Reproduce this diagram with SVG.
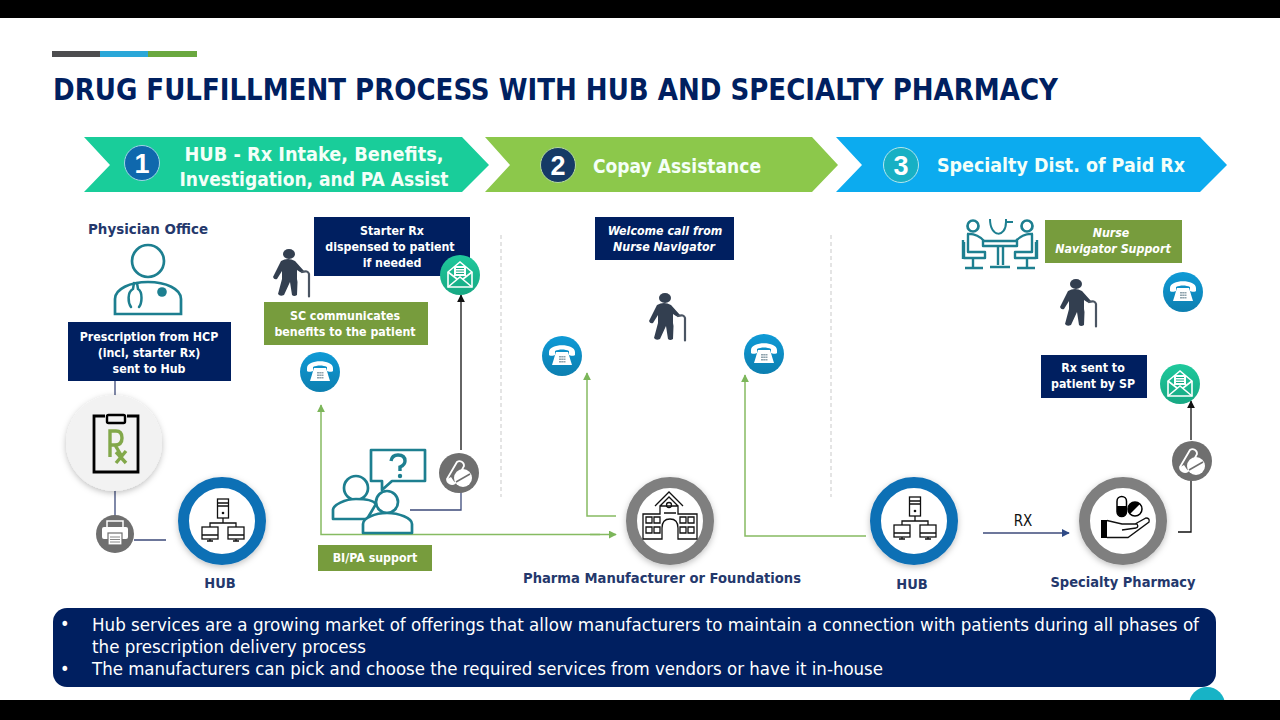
<svg xmlns="http://www.w3.org/2000/svg" xmlns:xlink="http://www.w3.org/1999/xlink" width="1280" height="720" viewBox="0 0 1280 720">
<style>
text{font-family:"DejaVu Sans Condensed","DejaVu Sans",sans-serif;font-stretch:condensed}
.t{text-anchor:middle;font-weight:700;font-size:12.3px;fill:#fff}
.i{font-style:italic}
.lab{text-anchor:middle;font-weight:700;font-size:14.5px;fill:#24386c}
.head{font-weight:700;font-size:20px;fill:#f4fff8;text-anchor:middle}
.num{font-family:"Liberation Sans",sans-serif;font-weight:700;font-size:27px;fill:#fff;text-anchor:middle}
.navy{fill:#001f60}
.grn{fill:#779c3d}
.gl{fill:none;stroke:#86bb62;stroke-width:1.5}
.bl{fill:none;stroke:#111;stroke-width:1.3}
.nl{fill:none;stroke:#3c4a7a;stroke-width:1.3}
.dash{stroke:#c9c9c9;stroke-width:1;stroke-dasharray:4 3}
.ic{fill:none;stroke:#111;stroke-width:1.3}
.tl{fill:none;stroke:#1d7f90;stroke-width:2.7}
.b{font-size:18px;font-weight:400;fill:#fff}
</style>
<defs>
<linearGradient id="gb" x1="0" y1="0" x2="0" y2="1"><stop offset="0" stop-color="#0f9ad6"/><stop offset="1" stop-color="#0d7fb0"/></linearGradient>
<linearGradient id="gm" x1="0" y1="0" x2="0" y2="1"><stop offset="0" stop-color="#1fc99c"/><stop offset="1" stop-color="#17a883"/></linearGradient>
<filter id="sh" x="-30%" y="-30%" width="160%" height="160%"><feDropShadow dx="0" dy="2" stdDeviation="3" flood-color="#000" flood-opacity=".25"/></filter>
<marker id="ag" viewBox="0 0 10 10" refX="9" refY="5" markerWidth="8" markerHeight="8" orient="auto" markerUnits="userSpaceOnUse"><path d="M0 0L10 5L0 10Z" fill="#7cb65a"/></marker>
<marker id="ak" viewBox="0 0 10 10" refX="9" refY="5" markerWidth="8" markerHeight="8" orient="auto" markerUnits="userSpaceOnUse"><path d="M0 0L10 5L0 10Z" fill="#111"/></marker>
<marker id="an" viewBox="0 0 10 10" refX="9" refY="5" markerWidth="8" markerHeight="8" orient="auto" markerUnits="userSpaceOnUse"><path d="M0 0L10 5L0 10Z" fill="#2f4a86"/></marker>
<symbol id="phone" overflow="visible" viewBox="-20 -20 40 40" width="40" height="40">
<circle r="20" fill="url(#gb)"/>
<path d="M-13-4C-13-13 13-13 13-4L13-1C13 0 8 0 7-1L7-5C3-7-3-7-7-5L-7-1C-8 0-13 0-13-1Z" fill="#fff"/>
<path d="M-6-4L6-4L10 9L-10 9Z" fill="#fff"/>
<path d="M-3 0h2v1.5h-2zM-.8 0h2v1.5h-2zM1.5 0h2v1.5h-2zM-3 2.500h2v1.500h-2zM-.8 2.500h2v1.500h-2zM1.5 2.500h2v1.500h-2zM-3 5h2v1.500h-2zM-.8 5h2v1.500h-2zM1.500 5h2v1.500h-2z" fill="#8fa3ad"/>
</symbol>
<symbol id="mail" overflow="visible" viewBox="-20 -20 40 40" width="40" height="40">
<circle r="20" fill="url(#gm)"/>
<path d="M-12-3L0-13L12-3L12 12L-12 12Z" fill="none" stroke="#fff" stroke-width="1.6"/>
<path d="M-12 12L0 2L12 12M-12-3L-3 4M12-3L3 4" fill="none" stroke="#fff" stroke-width="1.6"/>
<rect x="-6" y="-9" width="12" height="10" fill="#fff"/>
<path d="M-4-6.500h8M-4-4h8M-4-1.500h8" stroke="#17a883" stroke-width="1"/>
</symbol>
<symbol id="pill" overflow="visible" viewBox="-20 -20 40 40" width="40" height="40">
<circle r="20" fill="#6f6f6f"/>
<path d="M-2-11A4.500 4.500 0 0 1 5-7L-4 10A5 5 0 0 1-12 6Z" fill="none" stroke="#fff" stroke-width="1.8"/>
<path d="M-8 4L-4 10A5 5 0 0 1-12 6Z" fill="#fff"/>
<circle cx="4" cy="5" r="9" fill="#fff"/>
<path d="M-3 9L11 1" stroke="#6f6f6f" stroke-width="1.6"/>
</symbol>
<symbol id="walker" overflow="visible" viewBox="0 0 40 48" width="40" height="48">
<ellipse cx="19" cy="5" rx="6" ry="5" fill="#333f50"/>
<path d="M11 12Q18 8 25 12L34 22Q33 25 30 23L27 21L27 30L27.500 33L27 46Q24 48 22 46L20 33L14 46Q10 48 8 45L12 30L12 22L7 30Q4 31 3 28Z" fill="#333f50"/>
<path d="M32 23Q38 21 39 25L39 47.500" fill="none" stroke="#4b5563" stroke-width="2.200" stroke-linecap="round"/>
</symbol>
<symbol id="net" overflow="visible" viewBox="-25 -25 50 50" width="50" height="50">
<rect x="-5.500" y="-25" width="11" height="19" class="ic"/>
<path d="M-5.500-21h11M-5.500-18h11" class="ic"/>
<circle cx="0" cy="-11" r="1.300" fill="#111"/>
<path d="M0-6V-1M-13 3V-1H13V3" class="ic"/>
<rect x="-21" y="3" width="16" height="12" class="ic"/><path d="M-21 11h16M-16 17h6M-13 15v2" class="ic"/>
<rect x="5" y="3" width="16" height="12" class="ic"/><path d="M5 11h16M10 17h6M13 15v2" class="ic"/>
</symbol>
</defs>

<rect width="1280" height="720" fill="#fff"/>

<g id="title-bar"><rect x="52" y="51" width="48" height="6" fill="#4d4d4f"/><rect x="100" y="51" width="48" height="6" fill="#2aa7d8"/><rect x="148" y="51" width="49" height="6" fill="#6aa83f"/></g>
<text x="53" y="100" font-size="30" font-weight="700" fill="#002060" textLength="1005" lengthAdjust="spacingAndGlyphs">DRUG FULFILLMENT PROCESS WITH HUB AND SPECIALTY PHARMACY</text>

<g id="step1">
<path d="M84 137H462L489 165L462 192H84L110 165Z" fill="#19cd9a"/>
<circle cx="142" cy="163" r="17.500" fill="#0f68ad" stroke="#9fd6e6" stroke-width="1"/>
<text class="num" x="142" y="173">1</text>
<text class="head" x="314" y="161" textLength="259" lengthAdjust="spacingAndGlyphs">HUB - Rx Intake, Benefits,</text>
<text class="head" x="314" y="186" textLength="269" lengthAdjust="spacingAndGlyphs">Investigation, and PA Assist</text>
</g>
<g id="step2">
<path d="M485 137H812L838 165L812 192H485L510 165Z" fill="#8cc84b"/>
<circle cx="558" cy="165" r="17.500" fill="#153a66" stroke="#b6d9a0" stroke-width="1"/>
<text class="num" x="558" y="175">2</text>
<text class="head" x="677" y="173" textLength="168" lengthAdjust="spacingAndGlyphs">Copay Assistance</text>
</g>
<g id="step3">
<path d="M836 137H1200L1227 165L1200 192H836L862 165Z" fill="#0cabef"/>
<circle cx="901" cy="165" r="17.500" fill="#17b0c4" stroke="#b3e6ee" stroke-width="1"/>
<text class="num" x="901" y="175">3</text>
<text class="head" x="1061" y="172" textLength="248" lengthAdjust="spacingAndGlyphs">Specialty Dist. of Paid Rx</text>
</g>

<g id="connectors">
<line class="dash" x1="501" y1="235" x2="501" y2="497"/>
<line class="dash" x1="831" y1="235" x2="831" y2="497"/>
<path class="nl" d="M115 381V397M115 490V516M134 540H166"/>
<path class="gl" d="M600 534.500H321V405" marker-end="url(#ag)"/>
<path class="gl" d="M590 534.500H616" marker-end="url(#ag)"/>
<path class="bl" d="M461 450V295" marker-end="url(#ak)"/>
<path class="nl" d="M410 510H461V492"/>
<path class="gl" d="M616 516H587V373" marker-end="url(#ag)"/>
<path class="gl" d="M866 536H745V375" marker-end="url(#ag)"/>
<path class="nl" d="M983 533H1069" marker-end="url(#an)"/>
<path class="bl" d="M1178 532H1191V480"/>
<path class="bl" d="M1191 440V401" marker-end="url(#ak)"/>
</g>

<g id="physician-office">
<text class="lab" x="148" y="234" textLength="120" lengthAdjust="spacingAndGlyphs">Physician Office</text>
<circle class="tl" cx="148" cy="261" r="16"/>
<path class="tl" d="M115 314V299C115 289 130 282 148 282C166 282 181 289 181 299V314Z"/>
<path d="M137 283L138 289C143 292 142 303 139 307M134 283L133 289C127 292 128 303 131 307" fill="none" stroke="#1d7f90" stroke-width="2.500" stroke-linecap="round"/>
<circle cx="162" cy="292" r="4.800" fill="#1d7f90"/>
<rect class="navy" x="68" y="322" width="163" height="59"/>
<text class="t" x="149" y="341">Prescription from HCP</text>
<text class="t" x="149" y="357">(incl, starter Rx)</text>
<text class="t" x="149" y="373">sent to Hub</text>
</g>
<g id="rx-clipboard">
<circle cx="114" cy="443" r="48" fill="#f2f2f2" filter="url(#sh)"/>
<path d="M105 416H94V472H138V416H127" fill="none" stroke="#000" stroke-width="2.800"/>
<rect x="107" y="415" width="18" height="8" rx="1.500" fill="none" stroke="#000" stroke-width="2.400"/>
<path d="M110 457V431H116Q122 431 122 438Q122 445 115 445H110M115 445L121 455M116 452L126 463M126 451L116 463" fill="none" stroke="#82a84a" stroke-width="3.400"/>
</g>
<g id="printer">
<circle cx="115" cy="534" r="19" fill="#6f6f6f"/>
<rect x="107" y="521" width="16" height="7" fill="none" stroke="#fff" stroke-width="1.500"/>
<rect x="102" y="527" width="26" height="12" rx="2" fill="#fff"/>
<rect x="108" y="533" width="14" height="12" fill="#fff" stroke="#6f6f6f" stroke-width="1.200"/>
<path d="M110 537h10M110 539.500h10M110 542h10" stroke="#888" stroke-width="1"/>
</g>
<g id="hub-1">
<circle cx="222" cy="521" r="38.500" fill="#fff" stroke="#0f6fb5" stroke-width="11" filter="url(#sh)"/>
<use href="#net" x="198" y="499"/>
<text class="lab" x="220" y="588">HUB</text>
</g>

<g id="starter-rx">
<rect class="navy" x="314" y="217" width="156" height="59"/>
<text class="t" x="392" y="235">Starter Rx</text>
<text class="t" x="390" y="251">dispensed to patient</text>
<text class="t" x="392" y="267">if needed</text>
<use href="#mail" x="440" y="255"/>
</g>
<g id="sc-communicates">
<use href="#walker" x="270" y="249"/>
<rect class="grn" x="264" y="302" width="164" height="43"/>
<text class="t" x="345" y="320">SC communicates</text>
<text class="t" x="345" y="336">benefits to the patient</text>
<use href="#phone" x="300" y="352"/>
</g>
<g id="bi-pa-support">
<path d="M371 450H425V481H392L382 490L382 481H371Z" fill="#fff" stroke="#1d7f90" stroke-width="2.700" stroke-linejoin="round"/>
<path d="M391 461Q392 455 398 455Q405 455 405 461Q405 465 400 467L400 471" fill="none" stroke="#1d7f90" stroke-width="3.400"/>
<circle cx="400" cy="476" r="2.200" fill="#1d7f90"/>
<circle class="tl" cx="356" cy="488" r="12"/>
<path d="M333 519V510C333 505 345 499 356 499C367 499 374 501 376 504L367 519Z" fill="#fff" stroke="#1d7f90" stroke-width="2.700" stroke-linejoin="round"/>
<circle cx="387" cy="502" r="11" fill="#fff" stroke="#1d7f90" stroke-width="2.700"/>
<path d="M363 533V524C363 518 375 513 387 513C399 513 412 518 412 524V533Z" fill="#fff" stroke="#1d7f90" stroke-width="2.700" stroke-linejoin="round"/>
<use href="#pill" x="439" y="453"/>
<rect class="grn" x="318" y="545" width="114" height="26"/>
<text class="t" x="375" y="562">BI/PA support</text>
</g>

<g id="welcome-call">
<rect class="navy" x="595" y="217" width="139" height="43"/>
<text class="t i" x="665" y="235">Welcome call from</text>
<text class="t i" x="664" y="251">Nurse Navigator</text>
<use href="#walker" x="646" y="293"/>
<use href="#phone" x="542" y="336"/>
<use href="#phone" x="744" y="334"/>
</g>
<g id="pharma-manufacturer">
<circle cx="670" cy="521" r="38.500" fill="#fff" stroke="#7f7f7f" stroke-width="11" filter="url(#sh)"/>
<path class="ic" d="M655 506L669 492L683 506M660 506L669 497L678 506M643 514H660L660 506H678V514H697V539H678V528Q678 519 670 519Q662 519 662 528V539H643Z"/>
<circle class="ic" cx="669" cy="505" r="2.500"/>
<path class="ic" d="M646 517h6v6h-6zM654 517h6v6h-6zM646 527h6v6h-6zM654 527h6v6h-6zM680 517h6v6h-6zM688 517h6v6h-6zM680 527h6v6h-6zM688 527h6v6h-6zM664 513h12"/>
<text class="lab" x="662" y="583" textLength="278" lengthAdjust="spacingAndGlyphs">Pharma Manufacturer or Foundations</text>
</g>

<g id="hub-2">
<circle cx="914" cy="521" r="38.500" fill="#fff" stroke="#0f6fb5" stroke-width="11" filter="url(#sh)"/>
<use href="#net" x="890" y="497"/>
<text class="lab" x="912" y="589">HUB</text>
</g>
<text x="1023" y="526" font-size="15" text-anchor="middle" fill="#111" font-family="Liberation Sans">RX</text>
<g id="specialty-pharmacy">
<circle cx="1123" cy="521" r="38.500" fill="#fff" stroke="#7f7f7f" stroke-width="11" filter="url(#sh)"/>
<rect x="1117" y="496.500" width="9.500" height="20" rx="4.750" fill="#fff" stroke="#000" stroke-width="1.500"/>
<path d="M1117 506H1126.500V511.750A4.750 4.750 0 0 1 1117 511.750Z" fill="#000"/>
<circle cx="1135" cy="509" r="7" fill="#fff" stroke="#000" stroke-width="1.500"/>
<path d="M1130 514A7 7 0 0 1 1140 504Z" fill="#000"/>
<path class="ic" d="M1107 520.500L1122 524H1137Q1139 527 1136 528L1122 530M1107 537.500H1128L1149 522Q1150 518 1146 518L1135 524"/>
<rect x="1101" y="520" width="6" height="18" fill="#000"/>
<text class="lab" x="1123" y="587">Specialty Pharmacy</text>
</g>
<g id="nurse-navigator">
<circle class="tl" cx="973" cy="226" r="5.500"/><circle class="tl" cx="1027" cy="226" r="5.500"/>
<path d="M990 219C990 238 1006 238 1006 222H1013M1006 222V219" fill="none" stroke="#1d7f90" stroke-width="2"/>
<g fill="none" stroke="#1d7f90" stroke-width="2.400" stroke-linejoin="round">
<path d="M983 241H1017V246H983ZM998 246V265M1003 246V265M990 267H1010"/>
<path d="M967 234Q977 233 984 241M968 234V252H985V258H964V242M963 240V259M973 258V268M965 268H983"/>
<path d="M1033 234Q1023 233 1016 241M1032 234V252H1015V258H1036V242M1037 240V259M1027 258V268M1035 268H1017"/>
</g>
<rect class="grn" x="1045" y="220" width="137" height="43"/>
<text class="t i" x="1111" y="237">Nurse</text>
<text class="t i" x="1113" y="253">Navigator Support</text>
<use href="#walker" x="1057" y="279"/>
<use href="#phone" x="1163" y="272"/>
</g>
<g id="rx-sent">
<rect class="navy" x="1041" y="355" width="106" height="43"/>
<text class="t" x="1093" y="372">Rx sent to</text>
<text class="t" x="1093" y="388">patient by SP</text>
<use href="#mail" x="1160" y="364"/>
<use href="#pill" x="1172" y="441"/>
</g>

<g id="notes">
<circle cx="1207" cy="705" r="18" fill="#17b3c6"/>
<rect x="53" y="608" width="1163" height="79" rx="14" fill="#001f60"/>
<text class="b" x="60" y="630">•</text>
<text class="b" x="92" y="631" textLength="1107" lengthAdjust="spacingAndGlyphs">Hub services are a growing market of offerings that allow manufacturers to maintain a connection with patients during all phases of</text>
<text class="b" x="92" y="653" textLength="274" lengthAdjust="spacingAndGlyphs">the prescription delivery process</text>
<text class="b" x="60" y="675">•</text>
<text class="b" x="92" y="675" textLength="791" lengthAdjust="spacingAndGlyphs">The manufacturers can pick and choose the required services from vendors or have it in-house</text>
</g>

<rect width="1280" height="18" fill="#000"/>
<rect y="700" width="1280" height="20" fill="#000"/>
</svg>
